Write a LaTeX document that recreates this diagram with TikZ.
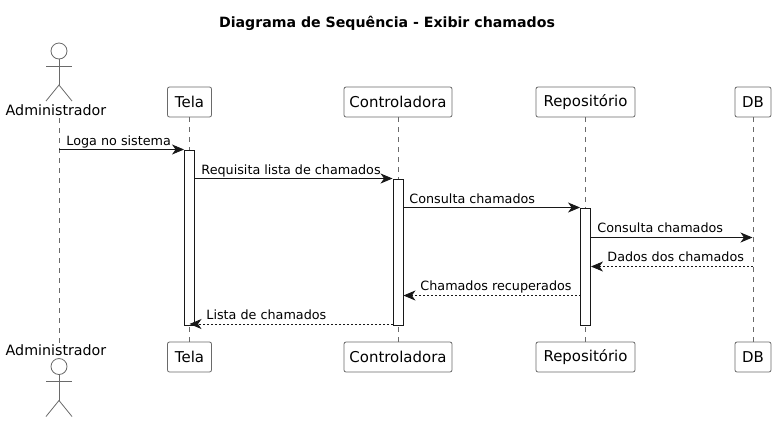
\documentclass[tikz,border=0pt]{standalone}
\usepackage{fontspec}
\setmainfont{DejaVu Sans}
\usetikzlibrary{arrows.meta}
\tikzset{>={Stealth[length=12bp,width=10bp,inset=3.5bp]}}
\definecolor{linegray}{HTML}{6A6A6A}
\definecolor{ink}{HTML}{181818}
\tikzset{
    participant/.style={draw=linegray, fill=white, rounded corners=2bp, line width=0.8bp,
        minimum height=30bp, inner sep=0pt, font=\fontsize{15}{17}\selectfont, text=black},
    actorname/.style={inner sep=0pt, font=\fontsize{14.3}{16}\selectfont, text=black, anchor=base},
    lifeline/.style={draw=linegray, dashed, dash pattern=on 5bp off 5bp, line width=0.7bp},
    activation/.style={draw=ink, fill=white, line width=0.9bp, minimum width=10bp,
        inner sep=0pt, anchor=north},
    msg/.style={draw=ink, line width=0.9bp, ->},
    reply/.style={draw=ink, line width=0.9bp, ->, dash pattern=on 2bp off 2bp},
    msglabel/.style={inner sep=0pt, anchor=base west, font=\fontsize{12.8}{15}\selectfont, text=black},
    actorline/.style={draw=linegray, line width=0.8bp}
}
\begin{document}
\begin{tikzpicture}[x=1bp, y=-1bp]
    \useasboundingbox (0,0) rectangle (775,422);
    \node [inner sep=0pt, font=\bfseries\fontsize{14.2}{16}\selectfont] (titulo) at (387,23)
        {Diagrama de Sequência - Exibir chamados};

    % actors
    \foreach \nome/\y in {admTopo/51, admBase/366.5} {
        \node [circle, draw=linegray, fill=white, line width=0.8bp, minimum size=16bp, inner sep=0pt]
            (\nome) at (59,\y) {};
        \coordinate (\nome quadril) at (59,\y+34);
        \draw [actorline] (\nome.south)--(\nome quadril);
        \draw [actorline] (46,\y+15)--(72,\y+15);
        \draw [actorline] (46,\y+50)--(\nome quadril)--(72,\y+50);
    }
    \node [actorname] (admNomeTopo) at (56,115) {Administrador};
    \node [actorname] (admNomeBase) at (56,355) {Administrador};

    % participants
    \foreach \nome/\x/\largura/\rotulo in {tela/189.5/44/Tela, control/398/108/Controladora,
            repo/585.5/99/Repositório, db/753/36/DB} {
        \node [participant, minimum width=\largura bp] (\nome Topo) at (\x,102) {\rotulo};
        \node [participant, minimum width=\largura bp] (\nome Base) at (\x,357) {\rotulo};
        \draw [lifeline] (\nome Topo)--(\nome Base);
    }
    \draw [lifeline] (59,118)--(59,343);

    % activations
    \node [activation, minimum height=175bp] (ativTela) at (189.5,149.5) {};
    \node [activation, minimum height=146bp] (ativControl) at (398,178.5) {};
    \node [activation, minimum height=117bp] (ativRepo) at (585.5,207.5) {};

    % messages
    \coordinate (admLoga) at (59,149.5);
    \coordinate (dbConsulta) at (752.5,237.5);
    \coordinate (dbDados) at (752.5,266.5);
    \coordinate (repoRecup) at (580.5,295.5);
    \coordinate (controlLista) at (393,324);
    \coordinate (telaFim) at (189.5,324);

    \draw [msg] (admLoga)--(ativTela.north west)
        node [msglabel] (m1) at (66,145) {Loga no sistema};
    \draw [msg] (ativTela.east |- ativControl.north)--(ativControl.north west)
        node [msglabel] (m2) at (201,174) {Requisita lista de chamados};
    \draw [msg] (ativControl.east |- ativRepo.north)--(ativRepo.north west)
        node [msglabel] (m3) at (409,203) {Consulta chamados};
    \draw [msg] (ativRepo.east |- dbConsulta)--(dbConsulta)
        node [msglabel] (m4) at (597,232) {Consulta chamados};
    \draw [reply] (dbDados)--(ativRepo.east |- dbDados)
        node [msglabel] (m5) at (607,261) {Dados dos chamados};
    \draw [reply] (repoRecup)--(ativControl.east |- repoRecup)
        node [msglabel] (m6) at (420,290) {Chamados recuperados};
    \draw [reply] (controlLista)--(telaFim)
        node [msglabel] (m7) at (206,319) {Lista de chamados};
\end{tikzpicture}
\end{document}
